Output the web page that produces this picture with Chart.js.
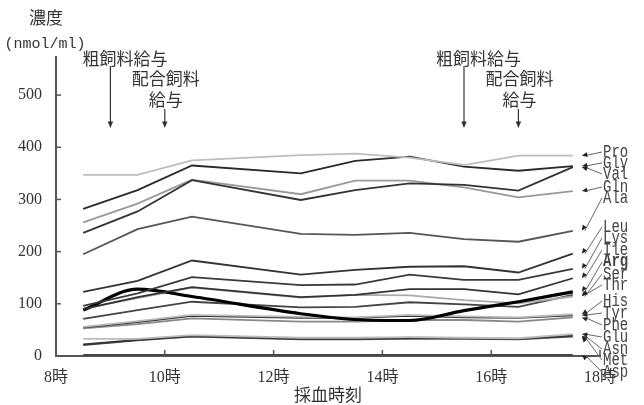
<!DOCTYPE html>
<html lang="ja">
<head>
<meta charset="UTF-8">
<title>採血時刻と濃度</title>
<script src="https://cdn.jsdelivr.net/npm/chart.js"></script>
<style>
  body { margin: 0; background: #fff; }
  canvas { display: block; }
</style>
</head>
<body>
<canvas id="chart" width="644" height="405"></canvas>
<script>
// 採血時刻 (時)
const times = [8.5, 9.5, 10.5, 12.5, 13.5, 14.5, 15.5, 16.5, 17.5];

// アミノ酸濃度 (nmol/ml)
const Pro = [347, 347, 375, 385, 388, 380, 366, 384, 384];
const Gly = [282, 318, 365, 350, 374, 382, 363, 355, 364];
const Val = [236, 277, 337, 299, 318, 331, 328, 317, 362];
const Gln = [256, 292, 338, 310, 336, 336, 323, 304, 316];
const Ala = [195, 243, 267, 234, 232, 236, 224, 219, 240];
const Leu = [123, 144, 183, 156, 165, 171, 172, 160, 196];
const Lys = [96, 120, 151, 136, 137, 156, 146, 146, 167];
const Ile = [90, 113, 132, 113, 117, 128, 128, 118, 149];
const Arg = [88, 128, 114, 81, 70, 68, 87, 104, 123];
const Ser = [91, 111, 131, 112, 117, 116, 107, 101, 114];
const Thr = [71, 88, 104, 93, 94, 103, 99, 94, 117];
const His = [56, 67, 79, 75, 74, 79, 76, 74, 80];
const Tyr = [55, 65, 77, 73, 73, 77, 74, 73, 78];
const Phe = [53, 61, 72, 66, 66, 69, 69, 66, 74];
const Glu = [33, 33, 40, 35, 35, 36, 35, 34, 42];
const Asn = [22, 31, 38, 33, 33, 35, 34, 33, 39];
const Met = [21, 30, 37, 32, 32, 33, 33, 32, 37];
const Asp = [2, 2, 2, 2, 2, 2, 2, 2, 2];

const names = ['Pro','Gly','Val','Gln','Ala','Leu','Lys','Ile','Arg','Ser','Thr','His','Tyr','Phe','Glu','Asn','Met','Asp'];
const values = [Pro, Gly, Val, Gln, Ala, Leu, Lys, Ile, Arg, Ser, Thr, His, Tyr, Phe, Glu, Asn, Met, Asp];

// 給与時刻
const feedTimes = [9, 10, 15.5, 16.5];

// 線の色
const colors = ['#bdbdbd','#2a2a2a','#333','#999','#555','#333','#3a3a3a','#333','#000','#aaa','#444','#bbb','#333','#888','#bbb','#333','#555','#444'];
// 右側ラベルの縦位置
const labelY = [152,163,174,187,198,227,238,250,262,274,285,301,313,325,337,349,360,372];

const serif = "'Liberation Serif', 'Noto Sans CJK JP', serif";
const jp = "'Noto Sans CJK JP', sans-serif";

const datasets = names.map((n, i) => ({
    label: n,
    data: times.map((t, j) => ({x: t, y: values[i][j]})),
    borderColor: colors[i],
    borderWidth: n === 'Arg' ? 3.2 : 1.8,
    pointRadius: 0,
    fill: false,
    tension: n === 'Arg' ? 0.4 : 0,
    cubicInterpolationMode: n === 'Arg' ? 'monotone' : 'default'
}));

function arrowHead(ctx, x1, y1, x2, y2, size) {
    const a = Math.atan2(y2 - y1, x2 - x1);
    ctx.beginPath();
    ctx.moveTo(x2, y2);
    ctx.lineTo(x2 - size * Math.cos(a - 0.4), y2 - size * Math.sin(a - 0.4));
    ctx.lineTo(x2 - size * Math.cos(a + 0.4), y2 - size * Math.sin(a + 0.4));
    ctx.closePath();
    ctx.fill();
}

const extras = {
    id: 'extras',
    afterDraw(chart) {
        const ctx = chart.ctx;
        const xs = chart.scales.x, ys = chart.scales.y;
        const base = ys.getPixelForValue(0);
        const left = xs.getPixelForValue(8);
        ctx.save();
        ctx.strokeStyle = '#555';
        ctx.fillStyle = '#333';
        ctx.lineWidth = 1.5;

        // 内向きの目盛り
        ys.ticks.forEach(t => {
            if (t.value === 0) return;
            const y = ys.getPixelForValue(t.value);
            ctx.beginPath(); ctx.moveTo(left, y); ctx.lineTo(left + 5, y); ctx.stroke();
        });
        xs.ticks.forEach(t => {
            if (t.value === 8) return;
            const x = xs.getPixelForValue(t.value);
            ctx.beginPath(); ctx.moveTo(x, base); ctx.lineTo(x, base - 6); ctx.stroke();
        });

        // 軸タイトル
        ctx.textAlign = 'center';
        ctx.textBaseline = 'middle';
        ctx.font = '17px ' + jp;
        ctx.fillText('濃度', 46, 18);
        ctx.font = "15px 'Liberation Mono', monospace";
        ctx.fillText('(nmol/ml)', 45, 44);

        // 給与の注記
        ctx.font = '17px ' + jp;
        ctx.lineWidth = 1.2;
        ctx.strokeStyle = '#333';
        const tipY = 128;
        [[0, 1], [2, 3]].forEach(([a, b]) => {
            const xa = xs.getPixelForValue(feedTimes[a]);
            const xb = xs.getPixelForValue(feedTimes[b]);
            ctx.textAlign = 'left';
            ctx.fillText('粗飼料給与', xa - 28, 59);
            ctx.textAlign = 'center';
            ctx.fillText('配合飼料', xb + 1, 79);
            ctx.fillText('給与', xb + 1, 100);
            ctx.beginPath(); ctx.moveTo(xa, 66); ctx.lineTo(xa, tipY - 4); ctx.stroke();
            arrowHead(ctx, xa, 66, xa, tipY, 7);
            ctx.beginPath(); ctx.moveTo(xb, 109); ctx.lineTo(xb, tipY - 4); ctx.stroke();
            arrowHead(ctx, xb, 109, xb, tipY, 7);
        });

        // 右側のアミノ酸名と引出線
        const endX = xs.getPixelForValue(times[times.length - 1]) + 9;
        ctx.lineWidth = 1;
        names.forEach((n, i) => {
            const ty = ys.getPixelForValue(values[i][values[i].length - 1]);
            const ly = labelY[i];
            ctx.strokeStyle = '#666';
            ctx.beginPath(); ctx.moveTo(602, ly); ctx.lineTo(endX + 3, ty); ctx.stroke();
            ctx.fillStyle = '#222';
            arrowHead(ctx, 602, ly, endX, ty, 6);
            ctx.save();
            ctx.translate(603, ly);
            ctx.scale(1, 1.25);
            ctx.fillStyle = '#444';
            ctx.textAlign = 'left';
            ctx.textBaseline = 'middle';
            ctx.font = (n === 'Arg' ? 'bold ' : '') + "14px 'Liberation Mono', monospace";
            ctx.fillText(n, 0, 0);
            ctx.restore();
        });
        ctx.restore();
    }
};

new Chart(document.getElementById('chart'), {
    type: 'line',
    data: { datasets: datasets },
    options: {
        responsive: false,
        animation: false,
        layout: { padding: { top: 57, right: 44, left: 0, bottom: 0 } },
        plugins: { legend: { display: false }, tooltip: { enabled: false } },
        scales: {
            x: {
                type: 'linear',
                min: 8,
                max: 18,
                afterFit: s => { s.height = 49; },
                grid: { drawOnChartArea: false, drawTicks: false },
                border: { color: '#555', width: 2 },
                ticks: {
                    stepSize: 2,
                    padding: 12,
                    color: '#333',
                    font: { family: serif, size: 16 },
                    callback: v => v + '時'
                },
                title: {
                    display: true,
                    text: '採血時刻',
                    color: '#333',
                    font: { family: jp, size: 17 },
                    padding: 0
                }
            },
            y: {
                min: 0,
                max: 573,
                afterFit: s => { s.width = 56; },
                grid: { drawOnChartArea: false, drawTicks: false },
                border: { color: '#555', width: 2 },
                ticks: {
                    stepSize: 100,
                    includeBounds: false,
                    padding: 14,
                    color: '#333',
                    font: { family: serif, size: 16 }
                }
            }
        }
    },
    plugins: [extras]
});
</script>
</body>
</html>
